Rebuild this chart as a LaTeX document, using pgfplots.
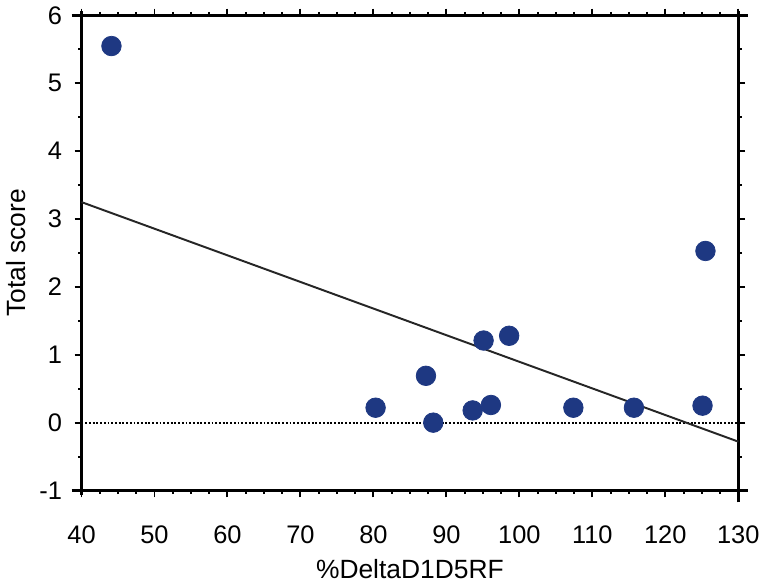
\documentclass[border=0pt]{standalone}
\usepackage{fontspec}
\setmainfont{Liberation Sans}
\usepackage{pgfplots}
\pgfplotsset{compat=1.18}
\definecolor{dotblue}{RGB}{30,56,130}

\begin{document}
\begin{tikzpicture}
\begin{axis}[
    scale only axis,
    width=336pt, height=243pt,
    xmin=40, xmax=130, ymin=-1, ymax=6,
    xtick={40,50,...,130},
    ytick={-1,0,...,6},
    minor x tick num=3,
    minor y tick num=1,
    tick align=outside,
    major tick length=3.5pt,
    minor tick length=1.8pt,
    tick style={black,line width=1pt},
    axis line style={line width=1.6pt},
    /pgf/number format/assume math mode=true,
    ticklabel style={font=\fontsize{13}{15}\selectfont},
    xticklabel style={yshift=-11pt},
    yticklabel style={xshift=-3pt},
    xlabel={\%DeltaD1D5RF},
    ylabel={Total score},
    label style={font=\fontsize{13.5}{15}\selectfont},
    xlabel style={yshift=-1pt},
    clip=false,
]
  % axis lines run a little past the corners
  \draw[line width=1.6pt] (rel axis cs:-0.015,0) -- (rel axis cs:1.015,0);
  \draw[line width=1.6pt] (rel axis cs:-0.015,1) -- (rel axis cs:1.015,1);
  \draw[line width=1.6pt] (rel axis cs:0,-0.01) -- (rel axis cs:0,1.01);
  \draw[line width=1.6pt] (rel axis cs:1,-0.025) -- (rel axis cs:1,1.01);

  % zero reference
  \addplot[black,line width=1.1pt,dash pattern=on 1pt off 0.9pt] coordinates {(40,0) (130,0)};

  % fitted line
  \addplot[black!85,line width=1pt] coordinates {(40,3.25) (130,-0.28)};

  % observations
  \addplot[only marks,mark=*,mark size=5pt,dotblue,mark options={draw=dotblue,fill=dotblue}]
    coordinates {
      (44.1,5.55) (80.3,0.22) (87.2,0.69) (88.2,0.0) (93.6,0.18)
      (95.1,1.21) (96.1,0.26) (98.6,1.28) (107.4,0.22) (115.7,0.22)
      (125.1,0.25) (125.5,2.53)
    };
\end{axis}
\end{tikzpicture}
\end{document}
